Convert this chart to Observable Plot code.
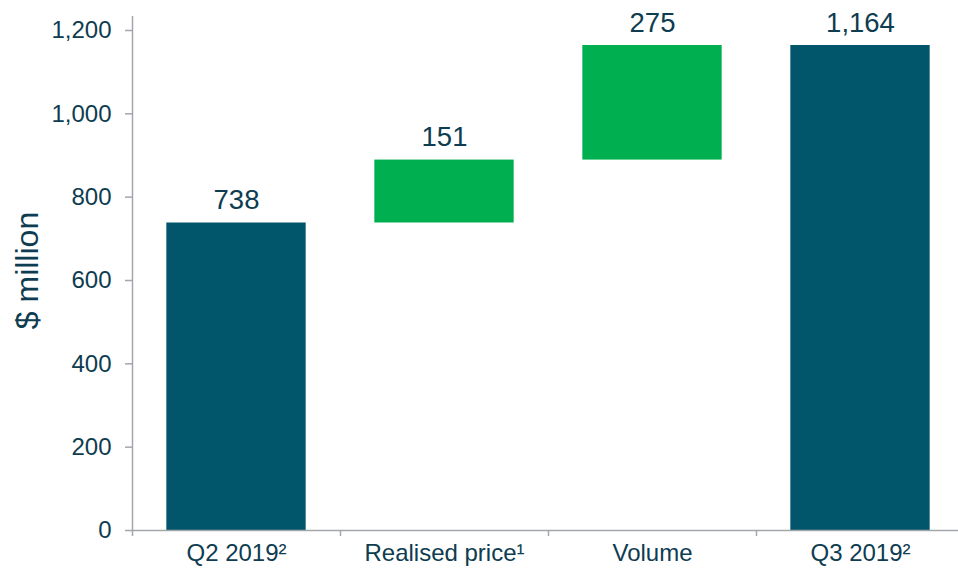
<!DOCTYPE html>
<html>
<head>
<meta charset="utf-8">
<script src="https://cdn.jsdelivr.net/npm/d3@7"></script>
<script src="https://cdn.jsdelivr.net/npm/@observablehq/plot@0.6"></script>
<style>
  html, body { margin: 0; padding: 0; background: #fff; }
  #chart svg { display: block; }
</style>
</head>
<body>
<div id="chart"></div>
<script>
const categories = ["Q2 2019²", "Realised price¹", "Volume", "Q3 2019²"];
const starts = [0, 738, 889, 0];
const ends = [738, 889, 1164, 1164];
const valueLabels = ["738", "151", "275", "1,164"];
const kinds = ["total", "delta", "delta", "total"];
const yTicks = [0, 200, 400, 600, 800, 1000, 1200];

const data = categories.map((c, i) => ({
  i, category: c, y1: starts[i], y2: ends[i], label: valueLabels[i], kind: kinds[i]
}));

const textColor = "#0E3C50";
const axisColor = "#A3A6AB";
const font = "'Liberation Sans', Arial, Helvetica, sans-serif";

const chart = Plot.plot({
  width: 958,
  height: 571,
  marginLeft: 132,
  marginRight: 0,
  marginTop: 10,
  marginBottom: 41,
  style: { fontFamily: font, color: textColor, background: "#fff" },
  x: { type: "linear", domain: [0, categories.length], range: [132, 964], axis: null },
  y: { domain: [0, 1248], axis: null },
  color: { domain: ["total", "delta"], range: ["#02566B", "#00B050"] },
  marks: [
    Plot.rectY(data, {
      x1: d => d.i + 0.165, x2: d => d.i + 0.835,
      y1: "y1", y2: "y2", fill: d => d.kind
    }),
    // y axis line
    Plot.ruleX([0], { y1: 0, y2: 1248, stroke: axisColor, strokeWidth: 1.5, insetBottom: -6 }),
    // x axis line
    Plot.ruleY([0], { stroke: axisColor, strokeWidth: 1.5 }),
    Plot.axisY({
      ticks: yTicks, tickFormat: d3.format(","), tickSize: 7, tickPadding: 14,
      fontSize: 24, stroke: axisColor, strokeWidth: 1.5, fill: textColor, label: null
    }),
    Plot.axisX({
      ticks: d3.range(categories.length + 1), tickFormat: () => "", tickSize: 6,
      stroke: axisColor, strokeWidth: 1.5, label: null
    }),
    // category labels
    Plot.text(data, {
      x: d => d.i + 0.5, y: 0, text: "category", dy: 23, lineAnchor: "middle",
      fontSize: 24, fill: textColor
    }),
    // value labels
    Plot.text(data, {
      x: d => d.i + 0.5, y: "y2", text: "label", dy: -14, lineAnchor: "bottom",
      fontSize: 27.5, fill: textColor
    }),
    // y axis title
    Plot.text(["$ million"], {
      frameAnchor: "left", textAnchor: "middle", rotate: -90, dx: -105, fontSize: 32,
      fill: textColor, lineAnchor: "middle"
    })
  ]
});
document.getElementById("chart").appendChild(chart);
</script>
</body>
</html>
